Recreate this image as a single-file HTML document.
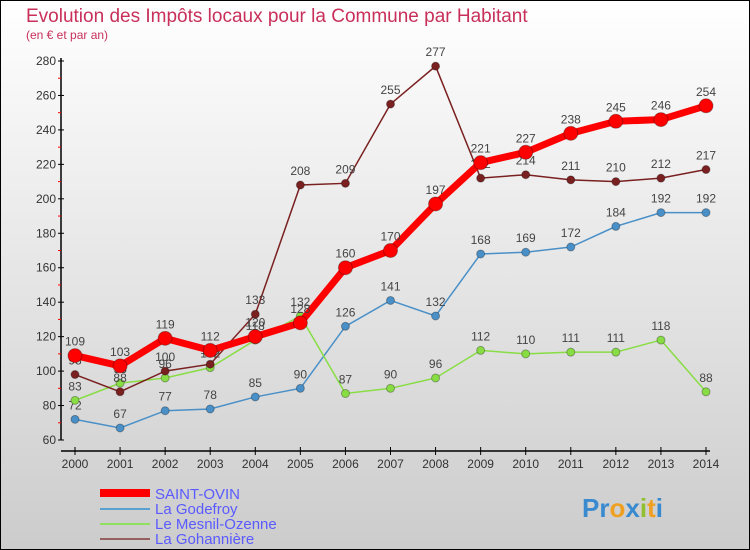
<!DOCTYPE html>
<html><head><meta charset="utf-8"><style>
body{margin:0}
#c{width:750px;height:550px;position:relative;box-sizing:border-box;border:1px solid #000;background:linear-gradient(#fff,#ccc);font-family:"Liberation Sans",sans-serif;overflow:hidden}
</style></head><body>
<div id="c">
<svg width="750" height="550" id="s" style="position:absolute;left:-1px;top:-1px">
<text x="26" y="22" font-size="19" fill="#c8305a">Evolution des Impôts locaux pour la Commune par Habitant</text>
<text x="26" y="39" font-size="12" fill="#c8305a">(en € et par an)</text>
<g id="axes"></g><g id="marks"></g>
<g>
<line x1="100" y1="493" x2="150" y2="493" stroke="#f00" stroke-width="8"/>
<text x="155" y="499" font-size="15" fill="#5a5aff">SAINT-OVIN</text>
<line x1="100" y1="509" x2="150" y2="509" stroke="#5aa0d0" stroke-width="2"/>
<text x="155" y="514" font-size="15" fill="#5a5aff">La Godefroy</text>
<line x1="100" y1="524" x2="150" y2="524" stroke="#90e060" stroke-width="2"/>
<text x="155" y="529" font-size="15" fill="#5a5aff">Le Mesnil-Ozenne</text>
<line x1="100" y1="539" x2="150" y2="539" stroke="#946060" stroke-width="2"/>
<text x="155" y="544" font-size="15" fill="#5a5aff">La Gohannière</text>
</g>
<text x="582" y="517" font-size="26" font-weight="bold"><tspan fill="#3a8ad0">Pr</tspan><tspan fill="#f0a020">o</tspan><tspan fill="#3a8ad0">x</tspan><tspan fill="#90c030">i</tspan><tspan fill="#f0a020">t</tspan><tspan fill="#3a8ad0">i</tspan></text>
</svg></div>
<script>
const years=["2000","2001","2002","2003","2004","2005","2006","2007","2008","2009","2010","2011","2012","2013","2014"];
const saintOvin=[109,103,119,112,120,128,160,170,197,221,227,238,245,246,254];
const godefroy=[72,67,77,78,85,90,126,141,132,168,169,172,184,192,192];
const mesnil=[83,93,96,102,118,132,87,90,96,112,110,111,111,118,88];
const gohanniere=[98,88,100,104,133,208,209,255,277,212,214,211,210,212,217];
const yTicks=[60,80,100,120,140,160,180,200,220,240,260,280];
const NS="http://www.w3.org/2000/svg";
const X=i=>75+i*(706-75)/(years.length-1);
const Y=v=>440-(v-60)*(440-61)/220;
function mk(t,a,p){const e=document.createElementNS(NS,t);for(const k in a)e.setAttribute(k,a[k]);p.appendChild(e);return e;}
const ax=document.getElementById('axes'),mg=document.getElementById('marks');
let e=mk('line',{x1:61,y1:58,x2:61,y2:440,stroke:'#000','stroke-width':1.5},ax);

e=mk('line',{x1:61,y1:451,x2:710,y2:451,stroke:'#000','stroke-width':1.5},ax);

yTicks.forEach((v,i)=>{mk('line',{x1:58,y1:Y(v),x2:64,y2:Y(v),stroke:'#000'},ax);
if(i<yTicks.length-1)mk('line',{x1:58,y1:Y(v+10),x2:61,y2:Y(v+10),stroke:'#f00'},ax);
const t=mk('text',{x:56,y:Y(v)+4,'font-size':12,fill:'#333','text-anchor':'end'},ax);t.textContent=v;
});
years.forEach((y,i)=>{mk('line',{x1:X(i),y1:447,x2:X(i),y2:455,stroke:'#000'},ax);
const t=mk('text',{x:X(i),y:468,'font-size':12,fill:'#333','text-anchor':'middle'},ax);t.textContent=y;
});
function series(d,name,col,w,r){
const g=mk('g',{},mg);
const l=mk('polyline',{points:d.map((v,i)=>X(i)+','+Y(v)).join(' '),fill:'none',stroke:col,'stroke-width':w},g);

d.forEach((v,i)=>{const c=mk('circle',{cx:X(i),cy:Y(v),r:r,fill:col,stroke:'rgba(0,0,0,0.3)'},g);

const t=mk('text',{x:X(i),y:Y(v)-10,'font-size':12,fill:'#444','text-anchor':'middle'},g);t.textContent=v;
});}
series(godefroy,'la-godefroy','#4a90c8',1.5,4);
series(mesnil,'le-mesnil-ozenne','#88dd44',1.5,4);
series(gohanniere,'la-gohanniere','#7a2020',1.5,4);
series(saintOvin,'saint-ovin','#f00',7,7);
</script></body></html>
